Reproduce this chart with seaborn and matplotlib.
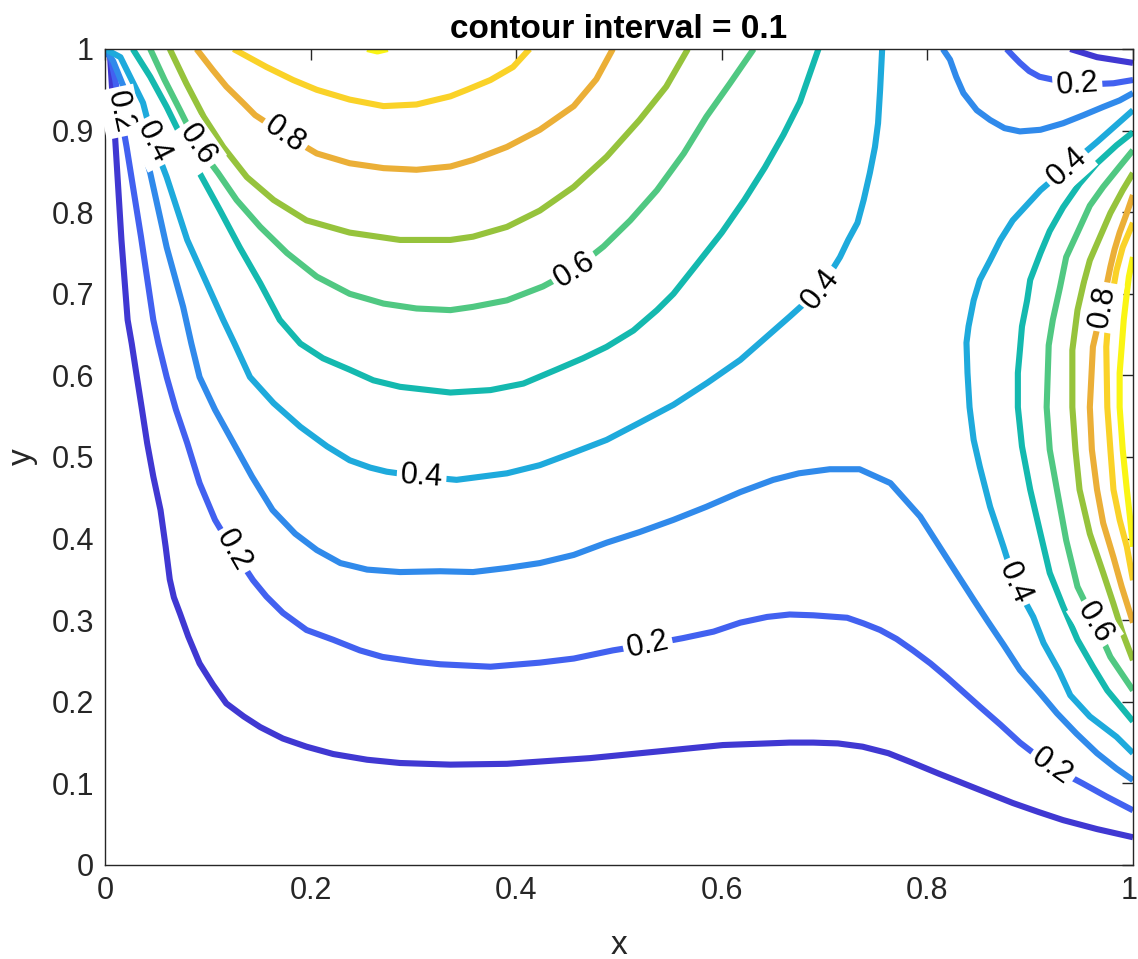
import numpy as np
import pandas as pd
import seaborn as sns
import matplotlib.pyplot as plt
import matplotlib.transforms as mtrans
from matplotlib.ticker import FuncFormatter

# contour lines (x, y in data units)
# fan of lines leaving the top-left corner
c01_x = [0.0, 0.005, 0.010, 0.016, 0.022, 0.026, 0.031, 0.036, 0.041, 0.047, 0.054, 0.059, 0.063, 0.067, 0.073, 0.081,
         0.092, 0.105, 0.118, 0.135, 0.151, 0.173, 0.196, 0.222, 0.255, 0.287, 0.336, 0.391, 0.472, 0.553, 0.601, 0.666,
         0.689, 0.713, 0.737, 0.762, 0.786, 0.811, 0.835, 0.859, 0.883, 0.908, 0.932, 0.965, 1.0]
c01_y = [1.0, 0.990, 0.888, 0.766, 0.668, 0.639, 0.598, 0.558, 0.517, 0.476, 0.435, 0.390, 0.350, 0.328, 0.308, 0.280,
         0.247, 0.221, 0.198, 0.182, 0.169, 0.155, 0.145, 0.136, 0.129, 0.125, 0.123, 0.124, 0.131, 0.141, 0.147, 0.150,
         0.150, 0.149, 0.145, 0.137, 0.125, 0.112, 0.100, 0.088, 0.076, 0.065, 0.055, 0.044, 0.034]
c02_x = [0.0, 0.004, 0.010, 0.015, 0.021, 0.035, 0.047, 0.052, 0.060, 0.069, 0.080, 0.092, 0.107, 0.125, 0.144, 0.157,
         0.173, 0.196, 0.222, 0.248, 0.270, 0.303, 0.326, 0.375, 0.423, 0.456, 0.494, 0.528, 0.562, 0.592, 0.618, 0.644,
         0.666, 0.689, 0.722, 0.738, 0.754, 0.770, 0.786, 0.803, 0.819, 0.835, 0.851, 0.871, 0.890, 0.921, 0.951, 0.974,
         1.0]
c02_y = [1.0, 0.998, 0.962, 0.923, 0.880, 0.770, 0.668, 0.639, 0.598, 0.558, 0.517, 0.468, 0.423, 0.385, 0.349, 0.329,
         0.309, 0.288, 0.276, 0.263, 0.255, 0.249, 0.246, 0.243, 0.248, 0.253, 0.263, 0.270, 0.278, 0.286, 0.297, 0.304,
         0.307, 0.306, 0.303, 0.296, 0.288, 0.277, 0.263, 0.247, 0.230, 0.212, 0.194, 0.172, 0.150, 0.120, 0.100, 0.084,
         0.067]
c03_x = [0.0, 0.008, 0.026, 0.044, 0.060, 0.076, 0.084, 0.092, 0.107, 0.125, 0.143, 0.163, 0.185, 0.206, 0.229, 0.255,
         0.287, 0.326, 0.358, 0.391, 0.423, 0.456, 0.488, 0.520, 0.553, 0.585, 0.618, 0.650, 0.675, 0.705, 0.734, 0.764,
         0.793, 0.822, 0.845, 0.858, 0.874, 0.890, 0.910, 0.926, 0.945, 0.965, 0.984, 1.0]
c03_y = [1.0, 0.985, 0.929, 0.848, 0.757, 0.684, 0.639, 0.598, 0.558, 0.517, 0.476, 0.435, 0.406, 0.386, 0.370, 0.362,
         0.359, 0.360, 0.359, 0.364, 0.370, 0.380, 0.395, 0.408, 0.423, 0.439, 0.457, 0.472, 0.480, 0.485, 0.485, 0.468,
         0.427, 0.370, 0.325, 0.300, 0.270, 0.239, 0.210, 0.186, 0.161, 0.137, 0.118, 0.104]
c04_x = [0.0, 0.015, 0.037, 0.047, 0.060, 0.080, 0.115, 0.126, 0.141, 0.164, 0.190, 0.216, 0.238, 0.258, 0.274, 0.308,
         0.342, 0.391, 0.423, 0.455, 0.488, 0.520, 0.553, 0.586, 0.618, 0.666, 0.696, 0.715, 0.723, 0.732, 0.738, 0.744,
         0.749, 0.752, 0.754, 0.756]
c04_y = [1.0, 0.990, 0.934, 0.886, 0.843, 0.766, 0.668, 0.639, 0.598, 0.566, 0.537, 0.513, 0.496, 0.487, 0.482, 0.476,
         0.472, 0.480, 0.490, 0.505, 0.521, 0.542, 0.564, 0.591, 0.619, 0.672, 0.706, 0.745, 0.766, 0.787, 0.815, 0.848,
         0.880, 0.909, 0.950, 1.0]
c05_x = [0.027, 0.044, 0.060, 0.076, 0.092, 0.112, 0.131, 0.151, 0.170, 0.190, 0.212, 0.238, 0.261, 0.287, 0.336, 0.375,
         0.407, 0.439, 0.465, 0.488, 0.514, 0.537, 0.553, 0.575, 0.600, 0.622, 0.642, 0.660, 0.676, 0.694]
c05_y = [1.0, 0.966, 0.929, 0.888, 0.848, 0.802, 0.757, 0.713, 0.668, 0.639, 0.621, 0.607, 0.594, 0.586, 0.579, 0.582,
         0.590, 0.607, 0.621, 0.635, 0.655, 0.680, 0.700, 0.735, 0.775, 0.815, 0.855, 0.895, 0.935, 1.0]
c06_x = [0.044, 0.058, 0.073, 0.090, 0.110, 0.128, 0.151, 0.177, 0.206, 0.238, 0.271, 0.303, 0.336, 0.358, 0.391, 0.426,
         0.457, 0.485, 0.511, 0.537, 0.563, 0.585, 0.608, 0.631]
c06_y = [1.0, 0.962, 0.925, 0.882, 0.848, 0.815, 0.782, 0.750, 0.721, 0.700, 0.688, 0.682, 0.680, 0.684, 0.692, 0.709,
         0.730, 0.758, 0.790, 0.827, 0.872, 0.917, 0.958, 1.0]
c07_x = [0.063, 0.079, 0.096, 0.115, 0.138, 0.164, 0.196, 0.238, 0.287, 0.336, 0.358, 0.391, 0.423, 0.456, 0.488, 0.520,
         0.546, 0.567]
c07_y = [1.0, 0.958, 0.917, 0.880, 0.843, 0.815, 0.790, 0.775, 0.766, 0.766, 0.770, 0.782, 0.802, 0.831, 0.868, 0.913,
         0.954, 1.0]
c08_x = [0.089, 0.105, 0.118, 0.135, 0.146, 0.175, 0.206, 0.238, 0.271, 0.303, 0.336, 0.358, 0.391, 0.423, 0.456, 0.478,
         0.494]
c08_y = [1.0, 0.974, 0.954, 0.933, 0.919, 0.895, 0.872, 0.860, 0.854, 0.852, 0.856, 0.864, 0.880, 0.901, 0.930, 0.963,
         1.0]
c09_x = [0.125, 0.141, 0.157, 0.183, 0.206, 0.238, 0.271, 0.303, 0.336, 0.352, 0.375, 0.397, 0.413]
c09_y = [1.0, 0.989, 0.978, 0.962, 0.950, 0.938, 0.930, 0.932, 0.942, 0.950, 0.962, 0.978, 1.0]
c10_x = [0.255, 0.265, 0.275]
c10_y = [1.0, 0.997, 1.0]

# small loops in the top-right corner
tr01_x = [0.939, 0.965, 1.0]
tr01_y = [1.0, 0.990, 0.983]
tr02_x = [0.877, 0.883, 0.890, 0.899, 0.909, 0.946, 0.981, 1.0]
tr02_y = [1.0, 0.992, 0.983, 0.973, 0.966, 0.956, 0.958, 0.962]
tr03_x = [0.815, 0.822, 0.828, 0.835, 0.848, 0.861, 0.875, 0.890, 0.910, 0.932, 0.952, 0.971, 0.987, 1.0]
tr03_y = [1.0, 0.987, 0.966, 0.946, 0.925, 0.913, 0.903, 0.899, 0.901, 0.909, 0.919, 0.929, 0.937, 0.946]

# arcs bulging from the right edge
r04_x = [1.0, 0.965, 0.936, 0.910, 0.883, 0.871, 0.861, 0.851, 0.845, 0.840, 0.838, 0.839, 0.841, 0.845, 0.851, 0.861,
         0.874, 0.885, 0.903, 0.913, 0.928, 0.939, 0.958, 0.984, 1.0]
r04_y = [0.925, 0.886, 0.855, 0.827, 0.790, 0.766, 0.741, 0.717, 0.692, 0.660, 0.640, 0.603, 0.561, 0.521, 0.488, 0.439,
         0.390, 0.346, 0.304, 0.272, 0.238, 0.208, 0.182, 0.157, 0.137]
r05_x = [1.0, 0.984, 0.965, 0.948, 0.932, 0.919, 0.910, 0.900, 0.897, 0.892, 0.890, 0.888, 0.888, 0.892, 0.900, 0.910,
         0.919, 0.932, 0.946, 0.961, 0.975, 1.0]
r05_y = [0.898, 0.882, 0.860, 0.835, 0.806, 0.777, 0.750, 0.717, 0.692, 0.660, 0.631, 0.603, 0.561, 0.513, 0.460, 0.406,
         0.358, 0.317, 0.276, 0.243, 0.214, 0.176]
r06_x = [1.0, 0.987, 0.971, 0.958, 0.946, 0.935, 0.929, 0.922, 0.918, 0.916, 0.919, 0.926, 0.935, 0.946, 0.963, 0.978,
         1.0]
r06_y = [0.876, 0.856, 0.831, 0.808, 0.775, 0.745, 0.708, 0.668, 0.637, 0.561, 0.509, 0.460, 0.398, 0.341, 0.297, 0.255,
         0.214]
r07_x = [1.0, 0.990, 0.978, 0.968, 0.958, 0.952, 0.946, 0.941, 0.941, 0.944, 0.948, 0.958, 0.971, 0.981, 0.990, 1.0]
r07_y = [0.848, 0.827, 0.799, 0.770, 0.741, 0.713, 0.680, 0.631, 0.561, 0.509, 0.460, 0.406, 0.358, 0.320, 0.284, 0.251]
r08_x = [1.0, 0.994, 0.987, 0.982, 0.978, 0.970, 0.961, 0.958, 0.960, 0.965, 0.971, 0.981, 0.989, 0.997, 1.0]
r08_y = [0.821, 0.799, 0.775, 0.754, 0.733, 0.684, 0.635, 0.561, 0.509, 0.460, 0.419, 0.377, 0.341, 0.309, 0.297]
r09_x = [1.0, 0.990, 0.984, 0.980, 0.976, 0.974, 0.975, 0.978, 0.981, 0.987, 0.994, 1.0]
r09_y = [0.787, 0.757, 0.729, 0.701, 0.668, 0.635, 0.561, 0.509, 0.460, 0.423, 0.390, 0.349]
r10_x = [1.0, 0.996, 0.994, 0.991, 0.989, 0.987, 0.987, 0.990, 0.994, 0.997, 0.999, 1.0]
r10_y = [0.745, 0.721, 0.701, 0.668, 0.635, 0.603, 0.561, 0.509, 0.460, 0.427, 0.402, 0.390]

contours = [
    (0.1, c01_x, c01_y), (0.2, c02_x, c02_y), (0.3, c03_x, c03_y), (0.4, c04_x, c04_y),
    (0.5, c05_x, c05_y), (0.6, c06_x, c06_y), (0.7, c07_x, c07_y), (0.8, c08_x, c08_y),
    (0.9, c09_x, c09_y), (1.0, c10_x, c10_y),
    (0.1, tr01_x, tr01_y), (0.2, tr02_x, tr02_y), (0.3, tr03_x, tr03_y),
    (0.4, r04_x, r04_y), (0.5, r05_x, r05_y), (0.6, r06_x, r06_y), (0.7, r07_x, r07_y),
    (0.8, r08_x, r08_y), (0.9, r09_x, r09_y), (1.0, r10_x, r10_y),
]

# inline contour labels
lab_text = ['0.2', '0.4', '0.6', '0.8', '0.4', '0.2', '0.6', '0.2', '0.4', '0.2', '0.4', '0.8', '0.4', '0.6', '0.2']
lab_x = [0.0146, 0.047, 0.090, 0.175, 0.308, 0.125, 0.457, 0.528, 0.696, 0.946, 0.936, 0.970, 0.885, 0.963, 0.921]
lab_y = [0.923, 0.886, 0.882, 0.895, 0.476, 0.385, 0.729, 0.270, 0.706, 0.956, 0.855, 0.684, 0.346, 0.297, 0.120]
lab_rot = [-78, -63, -55, -35, -4, -60, 32, 12, 52, 4, 42, 80, -66, -58, -35]

# parula-like level colours
level_colors = {0.1: '#4038D2', 0.2: '#4261F0', 0.3: '#308AEB', 0.4: '#1EAADC', 0.5: '#14B9AF',
                0.6: '#50C882', 0.7: '#96C33C', 0.8: '#EBAF37', 0.9: '#FAD228', 1.0: '#FAF514'}

rows = []
for seg, (lev, xs, ys) in enumerate(contours):
    for x, y in zip(xs, ys):
        rows.append((seg, lev, x, y))
df = pd.DataFrame(rows, columns=['seg', 'level', 'x', 'y'])

sns.set_theme(style='white')
plt.rcParams['font.family'] = ['Liberation Sans', 'DejaVu Sans']

fig = plt.figure(figsize=(11.38, 9.59), dpi=100)
ax = fig.add_axes([105 / 1138, 1 - 865 / 959, 1028 / 1138, 816 / 959])

sns.lineplot(data=df, x='x', y='y', hue='level', units='seg', estimator=None, sort=False,
             palette=level_colors, linewidth=4.4, legend=False, ax=ax,
             solid_capstyle='butt', solid_joinstyle='round')

for t, x, y, r in zip(lab_text, lab_x, lab_y, lab_rot):
    ax.text(x, y, t, rotation=r, rotation_mode='anchor', ha='center', va='center', fontsize=22,
            color='black', zorder=5,
            bbox=dict(boxstyle='square,pad=0.12', facecolor='white', edgecolor='none'))

ax.set_xlim(0, 1)
ax.set_ylim(0, 1)
ax.set_xticks(np.arange(0, 1.01, 0.2))
ax.set_yticks(np.arange(0, 1.01, 0.1))
fmt = FuncFormatter(lambda v, p: f'{v:g}')
ax.xaxis.set_major_formatter(fmt)
ax.yaxis.set_major_formatter(fmt)
ax.tick_params(direction='in', top=True, right=True, length=8, width=1.0, color='#262626',
               labelsize=22, labelcolor='#262626', pad=8)
for s in ax.spines.values():
    s.set_color('#262626')
    s.set_linewidth(1.0)
ax.set_xlabel('x', fontsize=24, color='#262626', labelpad=17)
ax.set_ylabel('y', fontsize=24, color='#262626', labelpad=10)
ax.set_title('contour interval = 0.1', fontsize=24, fontweight='bold', color='black', pad=8)

# keep the last x tick label inside the canvas
last = ax.get_xticklabels()[-1]
last.set_transform(last.get_transform() + mtrans.ScaledTranslation(-4 / 100, 0, fig.dpi_scale_trans))

fig.savefig('out.png', dpi=100)
